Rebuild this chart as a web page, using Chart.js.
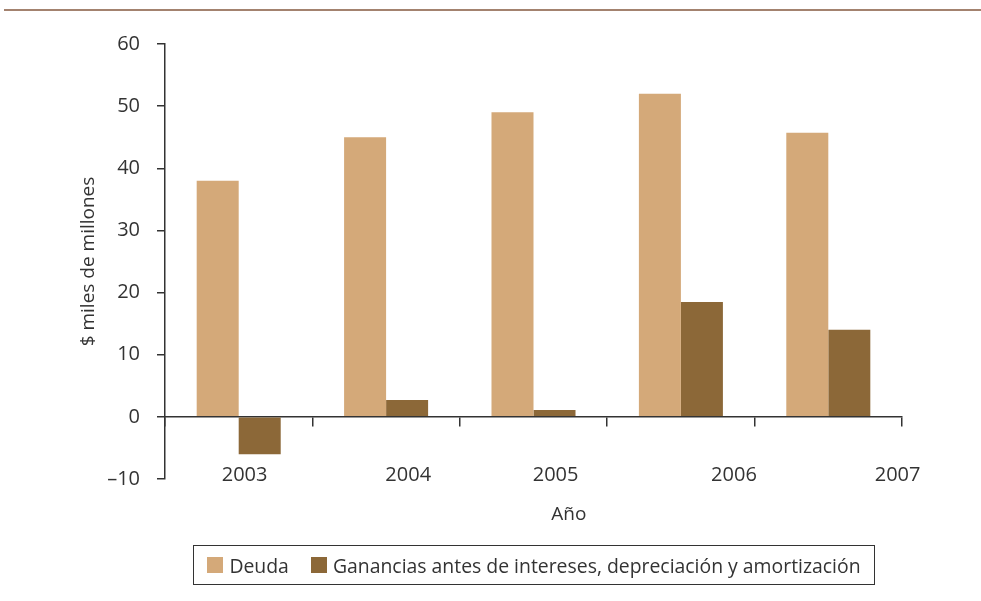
<!DOCTYPE html>
<html lang="es">
<head>
<meta charset="utf-8">
<title>Deuda y ganancias</title>
<script src="https://cdn.jsdelivr.net/npm/chart.js@4.4.1/dist/chart.umd.min.js"></script>
<style>
  body { margin: 0; background: #fff; font-family: "Open Sans", sans-serif; }
  #wrap { position: relative; width: 981px; height: 601px; }
  #rule { position: absolute; left: 4px; right: 0; top: 9px; height: 2px; background: #a3826f; }
  #legend {
    position: absolute; left: 193px; top: 545px; width: 680px; height: 38px;
    border: 1px solid #333; display: flex; align-items: center; justify-content: center;
    font-size: 19.4px; color: #333;
  }
  #legend span.sw { display: inline-block; width: 16px; height: 16px; margin-right: 6px; }
  #legend span.it { display: inline-flex; align-items: center; margin: 0 11px; }
</style>
</head>
<body>
<div id="wrap">
  <div id="rule"></div>
  <canvas id="chart"></canvas>
  <div id="legend"></div>
</div>
<script>
// datos
var years = ['2003', '2004', '2005', '2006', '2007'];
var deuda = [38, 45, 49, 52, 45.7];
var ebitda = [-6, 2.7, 1.1, 18.5, 14];
var yTicks = [-10, 0, 10, 20, 30, 40, 50, 60];

var names = ['Deuda', 'Ganancias antes de intereses, depreciación y amortización'];
var colors = ['#d4a979', '#8c6838'];

// las etiquetas de año y el título no van centrados en el original (en unidades de categoría)
var labelSlot = [0.04, 1.15, 2.15, 3.36, 4.47];
var titleSlot = 2.24;

var ink = '#333';
var font = { family: '"Open Sans", sans-serif', size: 19 };
var tickFont = { family: '"Open Sans", sans-serif', size: 20 };

// dibuja los años sobre el borde inferior y el título "Año"
var yearLabels = {
  id: 'yearLabels',
  afterDraw: function (c) {
    var xs = c.scales.x, ys = c.scales.y;
    var p0 = xs.getPixelForValue(0), step = xs.getPixelForValue(1) - p0;
    var y = ys.getPixelForValue(-10) - 4;
    var g = c.ctx;
    g.save();
    g.fillStyle = ink;
    g.textAlign = 'center';
    g.textBaseline = 'middle';
    g.font = tickFont.size + 'px ' + tickFont.family;
    years.forEach(function (t, i) {
      g.fillText(t, p0 + labelSlot[i] * step, y);
    });
    g.font = font.size + 'px ' + font.family;
    g.fillText('Año', p0 + titleSlot * step, y + 40);
    g.restore();
  }
};

var ctx = document.getElementById('chart').getContext('2d');
var chart = new Chart(ctx, {
  type: 'bar',
  data: {
    labels: years,
    datasets: [
      { label: names[0], data: deuda, backgroundColor: colors[0] },
      { label: names[1], data: ebitda, backgroundColor: colors[1] }
    ]
  },
  plugins: [yearLabels],
  options: {
    responsive: true,
    maintainAspectRatio: false,
    animation: false,
    layout: { padding: { top: 44, right: 79, bottom: 122, left: 0 } },
    datasets: { bar: { categoryPercentage: 0.57, barPercentage: 1.0 } },
    plugins: { legend: { display: false }, tooltip: { enabled: false } },
    scales: {
      // eje en cero con marcas entre categorías
      x: {
        type: 'category',
        position: { y: 0 },
        offset: true,
        ticks: { display: false },
        grid: { drawOnChartArea: false, offset: true, tickLength: 9, color: ink, lineWidth: 1.5 },
        border: { display: true, color: ink, width: 1.5 }
      },
      y: {
        min: -10,
        max: 60,
        afterBuildTicks: function (axis) {
          axis.ticks = yTicks.map(function (v) { return { value: v }; });
        },
        afterFit: function (axis) { axis.width = 165; },
        ticks: {
          padding: 17, color: ink, font: tickFont,
          callback: function (v) { return v < 0 ? '\u2013' + Math.abs(v) : v; }
        },
        grid: { drawOnChartArea: false, tickLength: 8, color: ink, lineWidth: 1.5 },
        border: { display: true, color: ink, width: 1.5 },
        title: { display: true, text: '$ miles de millones', color: ink, font: font, padding: { top: 77, bottom: 0 } }
      }
    }
  }
});

// leyenda
var lg = document.getElementById('legend');
names.forEach(function (n, i) {
  var it = document.createElement('span');
  it.className = 'it';
  var sw = document.createElement('span');
  sw.className = 'sw';
  sw.style.background = colors[i];
  it.appendChild(sw);
  it.appendChild(document.createTextNode(n));
  lg.appendChild(it);
});
</script>
</body>
</html>
